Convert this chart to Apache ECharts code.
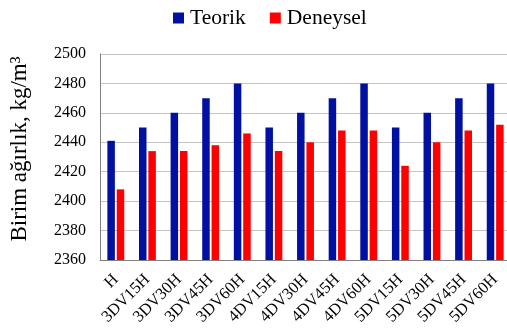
<!DOCTYPE html>
<html>
<head>
<meta charset="utf-8">
<script src="https://cdn.jsdelivr.net/npm/echarts@6/dist/echarts.min.js"></script>
<style>
  html, body { margin: 0; padding: 0; background: #fff; }
  #chart { width: 507px; height: 329px; }
</style>
</head>
<body>
<div id="chart"></div>
<script>
// Mix designations along the x axis
const categories = ['H', '3DV15H', '3DV30H', '3DV45H', '3DV60H', '4DV15H', '4DV30H', '4DV45H', '4DV60H', '5DV15H', '5DV30H', '5DV45H', '5DV60H'];
// Unit weight, kg/m3
const teorik = [2441, 2450, 2460, 2470, 2480, 2450, 2460, 2470, 2480, 2450, 2460, 2470, 2480];
const deneysel = [2408, 2434, 2434, 2438, 2446, 2434, 2440, 2448, 2448, 2424, 2440, 2448, 2452];
const seriesNames = ['Teorik', 'Deneysel'];
const yAxisTitle = 'Birim ağırlık, kg/m³';

const serif = 'Liberation Serif';
const chart = echarts.init(document.getElementById('chart'), null, { renderer: 'canvas' });

chart.setOption({
  animation: false,
  backgroundColor: '#ffffff',
  color: ['#0010a0', '#ff0000'],
  textStyle: { fontFamily: serif },
  legend: {
    top: 2,
    left: 168,
    itemWidth: 11,
    itemHeight: 11,
    itemGap: 24,
    icon: 'rect',
    textStyle: { fontFamily: serif, fontSize: 21.5, color: '#000', padding: [0, 0, 0, 1] },
    data: seriesNames
  },
  grid: { left: 100, top: 54, width: 411, height: 206, containLabel: false, outerBoundsMode: 'none' },
  xAxis: {
    type: 'category',
    data: categories,
    axisLine: { show: true, lineStyle: { color: '#808080', width: 1 } },
    axisTick: { show: false },
    axisLabel: { rotate: 45, margin: 17, interval: 0, fontFamily: serif, fontSize: 16.5, color: '#000' }
  },
  yAxis: {
    type: 'value',
    min: 2360,
    max: 2500,
    interval: 20,
    name: yAxisTitle,
    nameLocation: 'middle',
    nameRotate: 90,
    nameGap: 69,
    nameTextStyle: { fontFamily: serif, fontSize: 23, color: '#000', padding: [0, 0, 0, 16] },
    axisLine: { show: true, lineStyle: { color: '#808080', width: 1 } },
    axisTick: { show: false },
    axisLabel: { margin: 14, fontFamily: serif, fontSize: 16, color: '#000', formatter: v => String(v) },
    splitLine: { show: true, lineStyle: { color: '#c4c4c4', width: 1 } }
  },
  series: [
    { name: seriesNames[0], type: 'bar', data: teorik, barWidth: 7.5, barGap: '25%' },
    { name: seriesNames[1], type: 'bar', data: deneysel, barWidth: 7.5, barGap: '25%' }
  ]
});
</script>
</body>
</html>
